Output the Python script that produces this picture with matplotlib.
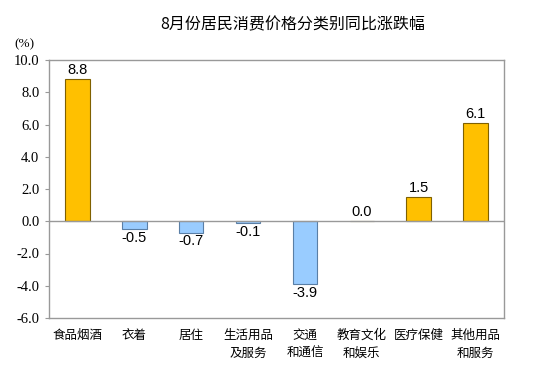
import matplotlib
matplotlib.use("Agg")
import matplotlib.pyplot as plt

CATEGORIES = ["食品烟酒", "衣着", "居住", "生活用品\n及服务", "交通\n和通信",
              "教育文化\n和娱乐", "医疗保健", "其他用品\n和服务"]
VALUES = [8.8, -0.5, -0.7, -0.1, -3.9, 0.0, 1.5, 6.1]
Y_TICKS = [-6.0, -4.0, -2.0, 0.0, 2.0, 4.0, 6.0, 8.0, 10.0]

POS_COLOR = "#FFC000"
NEG_COLOR = "#99CCFF"

plt.rcParams["font.family"] = ["Noto Sans CJK SC", "DejaVu Sans"]

fig = plt.figure(figsize=(5.42, 3.69), dpi=100)
ax = fig.add_axes([49 / 542, 1 - 318 / 369, 455 / 542, 258 / 369])

x = list(range(len(VALUES)))
colors = [POS_COLOR if v >= 0 else NEG_COLOR for v in VALUES]
edges = ["#7F6000" if v >= 0 else "#5A7FA6" for v in VALUES]
ax.bar(x, VALUES, width=0.43, color=colors, edgecolor=edges, linewidth=0.8, zorder=2)
ax.axhline(0, color="#999999", linewidth=1.0, zorder=3)

for xi, v in zip(x, VALUES):
    if v >= 0:
        ax.text(xi, v + 0.12, f"{v:.1f}", ha="center", va="bottom", fontsize=10.5,
                family="Liberation Sans")
    else:
        ax.text(xi, v - 0.12, f"{v:.1f}", ha="center", va="top", fontsize=10.5,
                family="Liberation Sans")

ax.set_xlim(-0.5, len(VALUES) - 0.5)
ax.set_ylim(-6, 10)
ax.set_yticks(Y_TICKS)
ax.set_yticklabels([f"{t:.1f}" for t in Y_TICKS])
for lab in ax.get_yticklabels():
    lab.set_fontfamily("Liberation Serif")
    lab.set_fontsize(10.5)
ax.set_xticks(x)
ax.set_xticklabels(CATEGORIES, fontsize=9, linespacing=1.45, va="top")
ax.tick_params(axis="x", length=0, pad=8)
ax.tick_params(axis="y", length=3, color="#999999", pad=4)
for s in ax.spines.values():
    s.set_color("#999999")
    s.set_linewidth(1.0)

fig.text(293 / 542, 1 - 25 / 369, "8月份居民消费价格分类别同比涨跌幅", ha="center", va="center",
         fontsize=11.5)
fig.text(24 / 542, 1 - 44 / 369, "(%)", ha="center", va="center", fontsize=9.5,
         family="Liberation Serif")

fig.savefig("out.png", dpi=100)
